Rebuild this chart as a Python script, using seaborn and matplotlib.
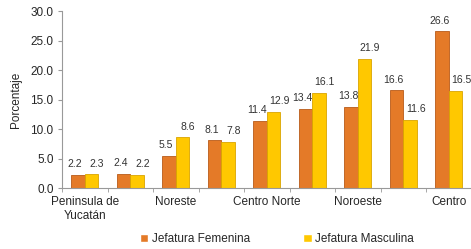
import matplotlib
matplotlib.use("Agg")
import matplotlib.pyplot as plt
import seaborn as sns
import pandas as pd

# regions along the x axis (only every other label is printed in the original)
regiones = ["Peninsula de\nYucatán", "", "Noreste", "", "Centro Norte",
            "", "Noroeste", "", "Centro"]
femenina = [2.2, 2.4, 5.5, 8.1, 11.4, 13.4, 13.8, 16.6, 26.6]
masculina = [2.3, 2.2, 8.6, 7.8, 12.9, 16.1, 21.9, 11.6, 16.5]
series = ["Jefatura Femenina", "Jefatura Masculina"]
colores = ["#E47A28", "#FFC800"]
bordes = ["#B85A18", "#D9A400"]

idx = [f"g{i}" for i in range(len(regiones))]
df = pd.DataFrame({
    "grupo": idx * 2,
    "serie": [series[0]] * len(idx) + [series[1]] * len(idx),
    "valor": femenina + masculina,
})

sns.set_style("white")
plt.rcParams["font.family"] = ["Liberation Sans", "DejaVu Sans"]

fig = plt.figure(figsize=(4.71, 2.49), dpi=100)
ax = fig.add_axes([62 / 471, 61 / 249, 409.5 / 471, 177 / 249])

sns.barplot(data=df, x="grupo", y="valor", hue="serie", palette=colores,
            width=0.6, ax=ax, legend=True, saturation=1)

# Excel-style labels: nudged outwards from the pair
for cont, ec, dx in zip(ax.containers, bordes, [-2, 4]):
    for b in cont:
        b.set_edgecolor(ec)
        b.set_linewidth(0.6)
        h = b.get_height()
        ax.annotate(f"{h:.1f}", (b.get_x() + b.get_width() / 2, h),
                    xytext=(dx, 4), textcoords="offset points",
                    ha="center", va="bottom", fontsize=7.5, color="#333333")

ax.set_ylim(0, 30)
ax.set_yticks(range(0, 31, 5))
ax.set_yticklabels([f"{v:.1f}" for v in range(0, 31, 5)], fontsize=8.5)
ax.set_xlim(-0.5, len(regiones) - 0.5)
ax.set_xticks(range(len(regiones)))
ax.set_xticklabels(regiones, fontsize=8.5)
ax.tick_params(axis="x", length=0, pad=6)
ax.tick_params(axis="y", length=3, color="#999999", left=True, pad=3)
# boundary ticks between groups
ax.set_xticks([i - 0.5 for i in range(len(regiones) + 1)], minor=True)
ax.tick_params(axis="x", which="minor", length=3, color="#999999", bottom=True)

ax.set_xlabel("")
ax.set_ylabel("Porcentaje", fontsize=8.5, labelpad=6)
for s in ["top", "right"]:
    ax.spines[s].set_visible(False)
for s in ["left", "bottom"]:
    ax.spines[s].set_color("#999999")
    ax.spines[s].set_linewidth(0.8)

ax.legend(loc="center", bbox_to_anchor=(277 / 471, 10 / 249),
          bbox_transform=fig.transFigure, ncol=2, frameon=False,
          fontsize=8.5, handlelength=0.7, handleheight=0.7,
          handletextpad=0.3, columnspacing=4.5)

fig.savefig("out.png", dpi=100)
